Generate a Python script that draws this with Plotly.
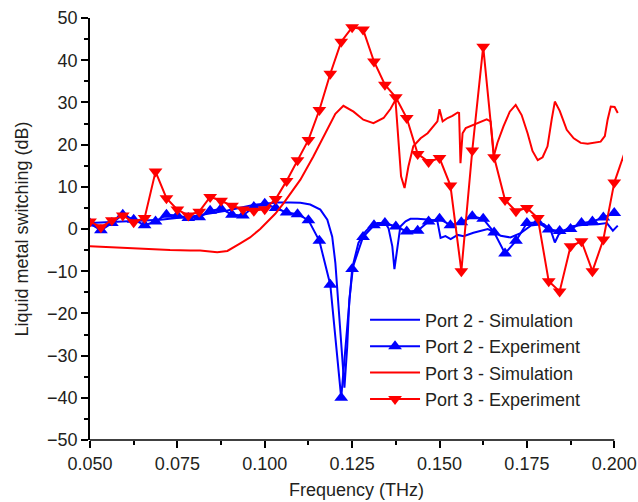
import plotly.graph_objects as go

# ---------------- data ----------------
freq_exp = [0.050000, 0.053125, 0.056250, 0.059375, 0.062500, 0.065625, 0.068750,
            0.071875, 0.075000, 0.078125, 0.081250, 0.084375, 0.087500, 0.090625,
            0.093750, 0.096875, 0.100000, 0.103125, 0.106250, 0.109375, 0.112500,
            0.115625, 0.118750, 0.121875, 0.125000, 0.128125, 0.131250, 0.134375,
            0.137500, 0.140625, 0.143750, 0.146875, 0.150000, 0.153125, 0.156250,
            0.159375, 0.162500, 0.165625, 0.168750, 0.171875, 0.175000, 0.178125,
            0.181250, 0.184375, 0.187500, 0.190625, 0.193750, 0.196875, 0.200000]

port2_exp = [1.3, -0.3, 1.4, 3.4, 2.2, 0.9, 1.8, 3.4, 3.2, 2.6, 2.8, 4.3, 4.8, 3.4,
             3.2, 5.2, 6.0, 5.0, 3.9, 3.5, 2.1, -2.8, -13.2, -40.0, -9.5, -1.9, 0.9,
             1.4, 0.6, -0.6, -0.4, 1.8, 2.4, 0.9, 1.6, 3.0, 2.4, -0.8, -5.8, -2.8,
             1.4, 1.6, -0.1, -0.5, 0.0, 1.4, 1.8, 2.7, 3.8]

port3_exp = [1.8, 0.4, 2.1, 3.2, 1.6, 2.6, 13.6, 7.3, 4.6, 3.2, 4.1, 7.6, 6.7, 5.5,
             4.6, 4.3, 4.7, 7.1, 11.4, 16.3, 21.1, 28.2, 36.8, 44.4, 47.8, 47.3, 39.7,
             34.2, 31.2, 26.3, 17.8, 15.9, 16.8, 10.3, -10.0, 18.6, 43.2, 17.0, 6.9,
             4.2, 5.0, 2.6, -12.4, -14.8, -4.1, -2.9, -10.0, -2.5, 11.0]

# port 3 experiment continues one step past the axis end (drawn clipped)
freq_exp3_tail = [0.200000, 0.203125]
port3_exp_tail = [11.0, 18.5]

freq_sim2 = [0.0500, 0.0606, 0.0701, 0.0795, 0.0893, 0.0967, 0.1036, 0.1073, 0.1102,
             0.1130, 0.1159, 0.1179, 0.1193, 0.1202, 0.1211, 0.1222, 0.1228, 0.1236,
             0.1242, 0.1254, 0.1268, 0.1288, 0.1302, 0.1322, 0.1345, 0.1354, 0.1365,
             0.1371, 0.1380, 0.1388, 0.1403, 0.1417, 0.1437, 0.1474, 0.1494, 0.1503,
             0.1517, 0.1532, 0.1552, 0.1569, 0.1597, 0.1638, 0.1655, 0.1675, 0.1703,
             0.1732, 0.1761, 0.1798, 0.1818, 0.1830, 0.1841, 0.1855, 0.1875, 0.1913,
             0.1953, 0.1979, 0.1996, 0.2010]
port2_sim = [1.4, 1.8, 2.2, 3.0, 4.4, 5.7, 6.3, 6.3, 6.2, 5.8, 4.6, 2.2, -1.8, -8.0,
             -18.3, -28.6, -37.6, -27.8, -16.7, -8.0, -3.3, -0.6, 0.6, 1.4, 1.4, 0.2,
             -4.1, -9.5, -4.1, 0.6, 1.8, 2.4, 2.4, 2.2, 1.8, -2.1, -1.7, -2.4, -1.4,
             -1.7, -0.9, 0.0, -0.6, -1.6, -2.0, -1.0, 0.8, 1.2, -0.2, -3.2, -1.3, -0.6,
             0.6, 1.0, 1.1, 1.4, -0.4, 0.8]

freq_sim3 = [0.0500, 0.0615, 0.0729, 0.0787, 0.0815, 0.0864, 0.0893, 0.0930, 0.0958,
             0.0987, 0.1007, 0.1030, 0.1053, 0.1079, 0.1102, 0.1139, 0.1179, 0.1202,
             0.1225, 0.1254, 0.1282, 0.1311, 0.1340, 0.1360, 0.1374, 0.1390, 0.1400,
             0.1411, 0.1425, 0.1446, 0.1466, 0.1483, 0.1494, 0.1500, 0.1509, 0.1523,
             0.1537, 0.1552, 0.1556, 0.1560, 0.1566, 0.1575, 0.1597, 0.1617, 0.1635,
             0.1646, 0.1655, 0.1666, 0.1683, 0.1701, 0.1718, 0.1735, 0.1752, 0.1766,
             0.1781, 0.1795, 0.1809, 0.1821, 0.1830, 0.1844, 0.1864, 0.1884, 0.1904,
             0.1924, 0.1950, 0.1961, 0.1973, 0.1981, 0.1990, 0.2001, 0.2010]
port3_sim = [-4.1, -4.6, -5.0, -5.1, -5.1, -5.5, -5.2, -3.4, -2.0, 0.0, 1.6, 3.6, 6.0,
             9.0, 11.7, 17.2, 23.5, 27.3, 29.2, 27.8, 25.9, 25.1, 26.3, 28.5, 30.6,
             12.5, 9.7, 14.8, 19.6, 21.5, 22.7, 24.3, 25.5, 28.4, 25.5, 26.3, 26.8,
             27.6, 27.5, 15.6, 22.7, 23.9, 24.7, 25.5, 26.0, 25.5, 17.2, 20.5, 24.3,
             27.8, 29.4, 27.0, 22.7, 18.5, 16.3, 17.0, 19.6, 26.0, 30.2, 28.0, 23.5,
             21.5, 20.4, 20.2, 20.5, 20.7, 22.0, 25.9, 29.0, 28.9, 27.5]

x_ticks = [0.050, 0.075, 0.100, 0.125, 0.150, 0.175, 0.200]
x_ticklabels = ["0.050", "0.075", "0.100", "0.125", "0.150", "0.175", "0.200"]
x_minor = [0.0625, 0.0875, 0.1125, 0.1375, 0.1625, 0.1875]

BLUE = "#0000FF"
RED = "#FF0000"
FONT = "Liberation Sans, Arial, Helvetica, sans-serif"
TXT = "#231F20"

fig = go.Figure()
fig.add_trace(go.Scatter(x=freq_sim2, y=port2_sim, mode="lines",
                         line=dict(color=BLUE, width=2),
                         name="Port 2 - Simulation"))
fig.add_trace(go.Scatter(x=freq_exp, y=port2_exp, mode="lines+markers",
                         line=dict(color=BLUE, width=2),
                         marker=dict(symbol="triangle-up", size=12, color=BLUE),
                         name="Port 2 - Experiment"))
fig.add_trace(go.Scatter(x=freq_sim3, y=port3_sim, mode="lines",
                         line=dict(color=RED, width=2),
                         name="Port 3 - Simulation"))
fig.add_trace(go.Scatter(x=freq_exp3_tail, y=port3_exp_tail, mode="lines",
                         line=dict(color=RED, width=2),
                         showlegend=False, hoverinfo="skip"))
fig.add_trace(go.Scatter(x=freq_exp, y=port3_exp, mode="lines+markers",
                         line=dict(color=RED, width=2),
                         marker=dict(symbol="triangle-down", size=12, color=RED),
                         name="Port 3 - Experiment"))

# bottom axis line ends at 0.200 (data drawn slightly past it)
fig.add_shape(type="line", xref="x", yref="paper", x0=0.05, x1=0.2, y0=0, y1=0,
              line=dict(color="black", width=1.5), layer="above")

fig.update_layout(
    width=638, height=502,
    margin=dict(l=90, r=15, t=18, b=62),
    paper_bgcolor="white", plot_bgcolor="white",
    font=dict(family=FONT, size=18, color=TXT),
    showlegend=True,
    legend=dict(x=0.516, y=0.328, xanchor="left", yanchor="top",
                bgcolor="rgba(0,0,0,0)", borderwidth=0,
                font=dict(family=FONT, size=18, color=TXT),
                itemwidth=50, tracegroupgap=0),
)
fig.update_xaxes(
    automargin=False,
    range=[0.05, 0.2025], tickvals=x_ticks, ticktext=x_ticklabels,
    showline=False, showgrid=False, zeroline=False,
    ticks="outside", ticklen=7, tickwidth=1.5, tickcolor="black",
    minor=dict(tickvals=x_minor,
               ticks="outside", ticklen=4, tickwidth=1.5, tickcolor="black"),
    tickfont=dict(size=18, color=TXT),
    title=dict(text="Frequency (THz)", font=dict(size=18, color=TXT), standoff=10),
)
fig.update_yaxes(
    automargin=False,
    range=[-50, 50], dtick=10, tick0=0,
    showline=True, linecolor="black", linewidth=1.5,
    showgrid=False, zeroline=False,
    ticks="outside", ticklen=7, tickwidth=1.5, tickcolor="black",
    minor=dict(dtick=5, ticks="outside", ticklen=4, tickwidth=1.5, tickcolor="black"),
    tickfont=dict(size=18, color=TXT),
    title=dict(text="Liquid metal switching (dB)", font=dict(size=18, color=TXT), standoff=14),
)

fig.write_html("out.html")
